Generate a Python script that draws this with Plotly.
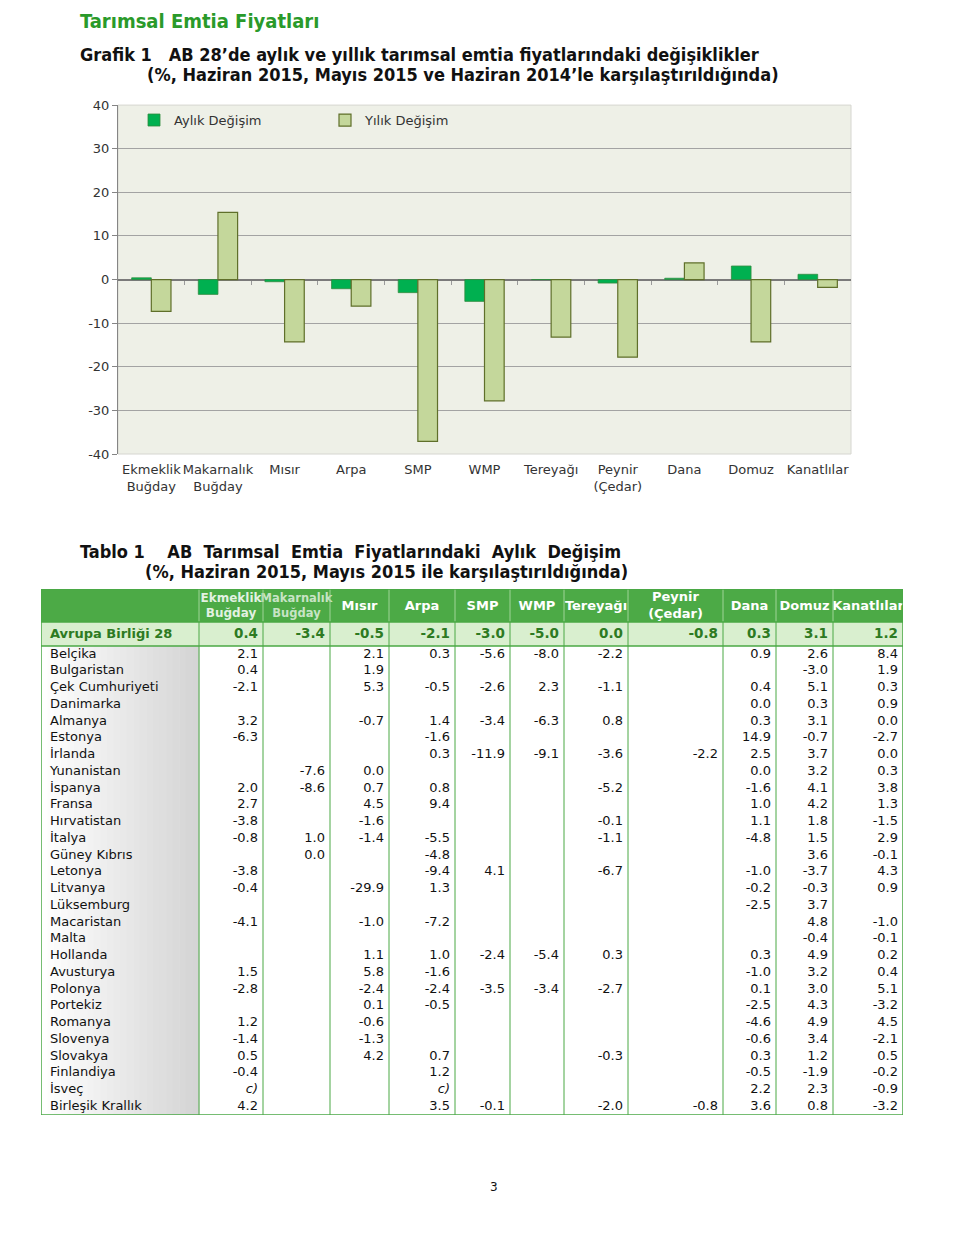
import plotly.graph_objects as go

# figure sized so that, with the page's default body margin, it fits a 960x1248 window
W, H = 944, 1232
PAGE_MARGIN = 8
# measured vertical placement of the figure inside the captured page
V_OFF, V_SCALE = 6.0, 0.988

# ---------------- data: chart ----------------
CATEGORIES = ["Ekmeklik<br>Buğday", "Makarnalık<br>Buğday", "Mısır", "Arpa", "SMP", "WMP",
              "Tereyağı", "Peynir<br>(Çedar)", "Dana", "Domuz", "Kanatlılar"]
MONTHLY = [0.4, -3.4, -0.5, -2.1, -3.0, -5.0, 0.0, -0.8, 0.3, 3.1, 1.2]
ANNUAL = [-7.3, 15.4, -14.3, -6.1, -37.1, -27.8, -13.2, -17.8, 3.8, -14.3, -1.8]
Y_TICKS = [40, 30, 20, 10, 0, -10, -20, -30, -40]
SERIES_NAMES = ["Aylık Değişim", "Yılık Değişim"]

# ---------------- data: table ----------------
TABLE_HEADERS = ["", "Ekmeklik<br>Buğday", "Makarnalık<br>Buğday", "Mısır", "Arpa", "SMP", "WMP",
                 "Tereyağı", "Peynir<br>(Çedar)", "Dana", "Domuz", "Kanatlılar"]
EU_LABEL = "Avrupa Birliği 28"
EU_VALUES = [0.4, -3.4, -0.5, -2.1, -3.0, -5.0, 0.0, -0.8, 0.3, 3.1, 1.2]
COUNTRIES = ["Belçika", "Bulgaristan", "Çek Cumhuriyeti", "Danimarka", "Almanya", "Estonya",
             "İrlanda", "Yunanistan", "İspanya", "Fransa", "Hırvatistan", "İtalya", "Güney Kıbrıs",
             "Letonya", "Litvanya", "Lüksemburg", "Macaristan", "Malta", "Hollanda", "Avusturya",
             "Polonya", "Portekiz", "Romanya", "Slovenya", "Slovakya", "Finlandiya", "İsveç",
             "Birleşik Krallık"]
N = None
C = "c)"
EKMEKLIK = [2.1, 0.4, -2.1, N, 3.2, -6.3, N, N, 2.0, 2.7, -3.8, -0.8, N, -3.8, -0.4, N, -4.1, N,
            N, 1.5, -2.8, N, 1.2, -1.4, 0.5, -0.4, C, 4.2]
MAKARNALIK = [N, N, N, N, N, N, N, -7.6, -8.6, N, N, 1.0, 0.0, N, N, N, N, N,
              N, N, N, N, N, N, N, N, N, N]
MISIR = [2.1, 1.9, 5.3, N, -0.7, N, N, 0.0, 0.7, 4.5, -1.6, -1.4, N, N, -29.9, N, -1.0, N,
         1.1, 5.8, -2.4, 0.1, -0.6, -1.3, 4.2, N, N, N]
ARPA = [0.3, N, -0.5, N, 1.4, -1.6, 0.3, N, 0.8, 9.4, N, -5.5, -4.8, -9.4, 1.3, N, -7.2, N,
        1.0, -1.6, -2.4, -0.5, N, N, 0.7, 1.2, C, 3.5]
SMP = [-5.6, N, -2.6, N, -3.4, N, -11.9, N, N, N, N, N, N, 4.1, N, N, N, N,
       -2.4, N, -3.5, N, N, N, N, N, N, -0.1]
WMP = [-8.0, N, 2.3, N, -6.3, N, -9.1, N, N, N, N, N, N, N, N, N, N, N,
       -5.4, N, -3.4, N, N, N, N, N, N, N]
TEREYAGI = [-2.2, N, -1.1, N, 0.8, N, -3.6, N, -5.2, N, -0.1, -1.1, N, -6.7, N, N, N, N,
            0.3, N, -2.7, N, N, N, -0.3, N, N, -2.0]
PEYNIR = [N, N, N, N, N, N, -2.2, N, N, N, N, N, N, N, N, N, N, N,
          N, N, N, N, N, N, N, N, N, -0.8]
DANA = [0.9, N, 0.4, 0.0, 0.3, 14.9, 2.5, 0.0, -1.6, 1.0, 1.1, -4.8, N, -1.0, -0.2, -2.5, N, N,
        0.3, -1.0, 0.1, -2.5, -4.6, -0.6, 0.3, -0.5, 2.2, 3.6]
DOMUZ = [2.6, -3.0, 5.1, 0.3, 3.1, -0.7, 3.7, 3.2, 4.1, 4.2, 1.8, 1.5, 3.6, -3.7, -0.3, 3.7, 4.8, -0.4,
         4.9, 3.2, 3.0, 4.3, 4.9, 3.4, 1.2, -1.9, 2.3, 0.8]
KANATLILAR = [8.4, 1.9, 0.3, 0.9, 0.0, -2.7, 0.0, 0.3, 3.8, 1.3, -1.5, 2.9, -0.1, 4.3, 0.9, N, -1.0, -0.1,
              0.2, 0.4, 5.1, -3.2, 4.5, -2.1, 0.5, -0.2, -0.9, -3.2]
TABLE_COLUMNS = [EKMEKLIK, MAKARNALIK, MISIR, ARPA, SMP, WMP, TEREYAGI, PEYNIR, DANA, DOMUZ, KANATLILAR]

# ---------------- style / layout constants ----------------
FONT = "DejaVu Sans"
TITLE_FONT = "DejaVu Sans Condensed, DejaVu Sans"
GREEN_HDR = "#4caa46"
GREEN_LINE = "#4aa845"
EU_BG = "#d9efcf"
EU_TXT = "#2d7a22"
COL_WIDTHS = [158, 64, 67, 59, 66, 55, 54, 64, 95, 53, 57, 70]   # px, table columns
HEADER_H, EU_H, ROW_H = 33, 24, 16.75
TABLE_LEFT, TABLE_TOP = 41, 588
HDR_SIZES = [12, 11.5, 13, 13, 13, 13, 13, 13, 13, 13, 13]


def px(x):
    return (x - PAGE_MARGIN) / W


def py(y):
    fy = (y - V_OFF) / V_SCALE - PAGE_MARGIN
    return 1 - fy / H


fig = go.Figure()

# ---------------- chart ----------------
fig.add_trace(go.Bar(x=CATEGORIES, y=MONTHLY, name=SERIES_NAMES[0],
                     marker=dict(color="#00b050", line=dict(color="#2e8b3e", width=0.8)),
                     hoverinfo="skip"))
fig.add_trace(go.Bar(x=CATEGORIES, y=ANNUAL, name=SERIES_NAMES[1],
                     marker=dict(color="#c4d79b", line=dict(color="#5f6f2a", width=1.2)),
                     hoverinfo="skip"))

# ---------------- table (on its own axes) ----------------
edges = [0]
for w in COL_WIDTHS:
    edges.append(edges[-1] + w)
TABLE_W = edges[-1]
TABLE_H = HEADER_H + EU_H + ROW_H * len(COUNTRIES)

row_y = [HEADER_H + EU_H + (i + 0.5) * ROW_H for i in range(len(COUNTRIES))]

fig.add_trace(go.Scatter(x=[9] * len(COUNTRIES), y=row_y, text=COUNTRIES, mode="text",
                         textposition="middle right", textfont=dict(family=FONT, size=13, color="#111"),
                         xaxis="x2", yaxis="y2", hoverinfo="skip", showlegend=False))


def fmt(v):
    if v is None:
        return ""
    if isinstance(v, str):
        return "<i>" + v + "</i>"
    return f"{v:.1f}"


for j, col in enumerate(TABLE_COLUMNS):
    xr = edges[j + 2] - 5
    fig.add_trace(go.Scatter(x=[xr] * len(col), y=row_y, text=[fmt(v) for v in col], mode="text",
                             textposition="middle left",
                             textfont=dict(family=FONT, size=13, color="#111"),
                             xaxis="x2", yaxis="y2", hoverinfo="skip", showlegend=False))

eu_y = HEADER_H + EU_H / 2 + 1
fig.add_trace(go.Scatter(x=[9], y=[eu_y], text=["<b>" + EU_LABEL + "</b>"], mode="text",
                         textposition="middle right",
                         textfont=dict(family=FONT, size=13, color=EU_TXT),
                         xaxis="x2", yaxis="y2", hoverinfo="skip", showlegend=False))
fig.add_trace(go.Scatter(x=[edges[j + 2] - 5 for j in range(len(EU_VALUES))], y=[eu_y] * len(EU_VALUES),
                         text=["<b>" + fmt(v) + "</b>" for v in EU_VALUES], mode="text",
                         textposition="middle left",
                         textfont=dict(family=FONT, size=13.5, color=EU_TXT),
                         xaxis="x2", yaxis="y2", hoverinfo="skip", showlegend=False))

hdr_x = [(edges[j] + edges[j + 1]) / 2 for j in range(1, len(TABLE_HEADERS))]
hdr_colors = ["#ffffff"] * (len(TABLE_HEADERS) - 1)
hdr_colors[0] = "rgba(255,255,255,0.85)"
hdr_colors[1] = "rgba(255,255,255,0.7)"
fig.add_trace(go.Scatter(x=hdr_x, y=[HEADER_H / 2 + 1] * len(hdr_x),
                         text=["<b>" + t + "</b>" for t in TABLE_HEADERS[1:]], mode="text",
                         textposition="middle center",
                         textfont=dict(family=FONT, size=HDR_SIZES, color=hdr_colors),
                         xaxis="x2", yaxis="y2", hoverinfo="skip", showlegend=False, cliponaxis=True))

shapes = []
shapes.append(dict(type="rect", xref="x domain", yref="y domain", x0=0, x1=1, y0=0, y1=1,
                   fillcolor="#eef0e7", line=dict(color="#d6d6d0", width=1), layer="below"))
shapes.append(dict(type="rect", xref="x2", yref="y2", x0=0, x1=TABLE_W, y0=0, y1=HEADER_H,
                   fillcolor=GREEN_HDR, line=dict(width=0), layer="below"))
shapes.append(dict(type="rect", xref="x2", yref="y2", x0=0, x1=TABLE_W, y0=HEADER_H, y1=HEADER_H + EU_H,
                   fillcolor=EU_BG, line=dict(width=0), layer="below"))
NSTRIP = 24
for k in range(NSTRIP):
    t = k / (NSTRIP - 1)
    g = int(255 - t * 42)
    shapes.append(dict(type="rect", xref="x2", yref="y2",
                       x0=edges[1] * k / NSTRIP, x1=edges[1] * (k + 1) / NSTRIP + 0.5,
                       y0=HEADER_H + EU_H, y1=TABLE_H,
                       fillcolor=f"rgb({g},{g},{g})", line=dict(width=0), layer="below"))
for e in edges[1:-1]:
    shapes.append(dict(type="line", xref="x2", yref="y2", x0=e, x1=e, y0=HEADER_H, y1=TABLE_H,
                       line=dict(color=GREEN_LINE, width=1)))
    shapes.append(dict(type="line", xref="x2", yref="y2", x0=e, x1=e, y0=0, y1=HEADER_H,
                       line=dict(color="#9fd497", width=1)))
for yy in [HEADER_H, HEADER_H + EU_H]:
    shapes.append(dict(type="line", xref="x2", yref="y2", x0=0, x1=TABLE_W, y0=yy, y1=yy,
                       line=dict(color=GREEN_LINE, width=1.5)))
shapes.append(dict(type="rect", xref="x2", yref="y2", x0=0, x1=TABLE_W, y0=0, y1=TABLE_H,
                   line=dict(color=GREEN_LINE, width=1.5)))

annotations = [
    dict(text="<b>Tarımsal Emtia Fiyatları</b>", x=px(78), y=py(20), xref="paper", yref="paper",
         xanchor="left", yanchor="middle", showarrow=False,
         font=dict(family=TITLE_FONT, size=20, color="#2a9a2a")),
    dict(text="<b>Grafik 1   AB 28’de aylık ve yıllık tarımsal emtia fiyatlarındaki değişiklikler</b>",
         x=px(78), y=py(53), xref="paper", yref="paper", xanchor="left", yanchor="middle",
         showarrow=False, font=dict(family=TITLE_FONT, size=18, color="#111")),
    dict(text="<b>(%, Haziran 2015, Mayıs 2015 ve Haziran 2014’le karşılaştırıldığında)</b>",
         x=px(145), y=py(73), xref="paper", yref="paper", xanchor="left", yanchor="middle",
         showarrow=False, font=dict(family=TITLE_FONT, size=18, color="#111")),
    dict(text="<b>Tablo 1    AB  Tarımsal  Emtia  Fiyatlarındaki  Aylık  Değişim</b>",
         x=px(78), y=py(550), xref="paper", yref="paper", xanchor="left", yanchor="middle",
         showarrow=False, font=dict(family=TITLE_FONT, size=18, color="#111")),
    dict(text="<b>(%, Haziran 2015, Mayıs 2015 ile karşılaştırıldığında)</b>",
         x=px(143), y=py(571), xref="paper", yref="paper", xanchor="left", yanchor="middle",
         showarrow=False, font=dict(family=TITLE_FONT, size=18, color="#111")),
    dict(text="3", x=px(494), y=py(1186), xref="paper", yref="paper", xanchor="center", yanchor="middle",
         showarrow=False, font=dict(family=FONT, size=12, color="#111")),
]

n_cat = len(CATEGORIES)
zero_frac = (0 - (-40)) / 80
chart_y0, chart_y1 = py(453), py(104)
zero_paper = chart_y0 + zero_frac * (chart_y1 - chart_y0)

fig.update_layout(
    width=W, height=H, margin=dict(l=0, r=0, t=0, b=0),
    paper_bgcolor="white", plot_bgcolor="rgba(0,0,0,0)",
    barmode="group", bargap=0.41, bargroupgap=0,
    font=dict(family=FONT, size=12, color="#333"),
    xaxis=dict(domain=[px(118), px(851)], range=[-0.5, n_cat - 0.5], showgrid=False, showline=False,
               zeroline=False, ticks="", tickangle=0, ticklabelstandoff=6,
               tickfont=dict(family=FONT, size=13, color="#333"), fixedrange=True),
    # category-boundary tick marks sitting on the zero line
    xaxis3=dict(overlaying="x", anchor="free", position=zero_paper, range=[-0.5, n_cat - 0.5],
                tickvals=[i + 0.5 for i in range(n_cat - 1)], ticks="outside", ticklen=4,
                tickcolor="#9a9a9a", tickwidth=1, showticklabels=False, showgrid=False,
                showline=False, zeroline=False, fixedrange=True),
    yaxis=dict(domain=[chart_y0, chart_y1], range=[-40, 40], tickvals=Y_TICKS,
               ticktext=[str(v) for v in Y_TICKS],
               showgrid=True, gridcolor="#a3a3a3", gridwidth=1,
               zeroline=True, zerolinecolor="#7a7a7a", zerolinewidth=1.5,
               showline=True, linecolor="#858585", linewidth=1, ticks="outside", ticklen=5,
               tickcolor="#858585", tickfont=dict(family=FONT, size=13, color="#333"), fixedrange=True),
    xaxis2=dict(domain=[px(TABLE_LEFT), px(TABLE_LEFT + TABLE_W)], range=[0, TABLE_W], visible=False,
                fixedrange=True),
    yaxis2=dict(domain=[py(TABLE_TOP + TABLE_H), py(TABLE_TOP)], range=[TABLE_H, 0], visible=False,
                fixedrange=True),
    legend=dict(orientation="h", x=px(134), y=py(119), xanchor="left", yanchor="middle",
                entrywidth=146, entrywidthmode="pixels", bgcolor="rgba(0,0,0,0)",
                font=dict(family=FONT, size=13, color="#333"), traceorder="normal"),
    shapes=shapes, annotations=annotations, showlegend=True,
)

# invisible helper trace so the boundary-tick axis is drawn
fig.add_trace(go.Scatter(x=[], y=[], xaxis="x3", yaxis="y", showlegend=False, hoverinfo="skip"))

fig.write_html("out.html")
